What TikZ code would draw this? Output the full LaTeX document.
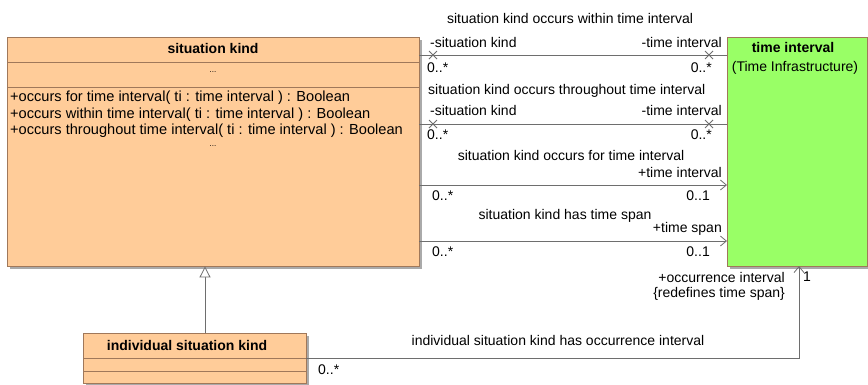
\documentclass[tikz,border=0pt]{standalone}
\usepackage{fontspec}
\setmainfont{Liberation Sans}
\usetikzlibrary{arrows.meta}
\definecolor{skfill}{RGB}{255,204,153}
\definecolor{tifill}{RGB}{153,255,102}
\definecolor{boxline}{RGB}{160,120,90}
\definecolor{shadowc}{RGB}{170,170,170}
\definecolor{linec}{RGB}{110,110,110}
\tikzset{
  lbl/.style={font=\fontsize{14}{16}\selectfont, inner sep=0pt, text=black},
  mth/.style={font=\fontsize{14.6}{16}\selectfont, inner sep=0pt, text=black},
  ttl/.style={font=\fontsize{14}{16}\selectfont\bfseries, inner sep=0pt},
  classbox/.style={draw=boxline, line width=0.8pt, inner sep=0pt, rectangle},
  assoc/.style={draw=linec, line width=0.8pt},
  openarr/.style={assoc, -{Straight Barb[length=6pt, width=10pt, line width=0.8pt]}},
  genarr/.style={assoc, -{Triangle[open, length=11pt, width=11pt, line width=0.8pt, fill=white]}},
  xmark/.style={draw=linec, line width=0.8pt}
}
\begin{document}
\begin{tikzpicture}[x=1pt, y=-1pt]
\useasboundingbox (0,0) rectangle (868,384);
% shadows
\fill[shadowc] (10,40) rectangle (422,269);
\fill[shadowc] (730,40) rectangle (869,269);
\fill[shadowc] (86,336) rectangle (309,386);
% situation kind
\node[classbox, fill=skfill, minimum width=412pt, minimum height=229pt] (sk) at (213,151.5) {};
\draw[boxline, line width=0.8pt] (7,62) -- (419,62);
\draw[boxline, line width=0.8pt] (7,87) -- (419,87);
\node[ttl] (sktitle) at (213,48) {situation kind};
\node[lbl, font=\fontsize{8}{9}\selectfont] (skdots1) at (213,72) {...};
\node[mth, anchor=west] (m1) at (10,98) {+occurs for time interval( ti : time interval ) : Boolean};
\node[mth, anchor=west] (m2) at (10,115) {+occurs within time interval( ti : time interval ) : Boolean};
\node[mth, anchor=west] (m3) at (10,131) {+occurs throughout time interval( ti : time interval ) : Boolean};
\node[lbl, font=\fontsize{8}{9}\selectfont] (skdots2) at (213,146) {...};
% time interval
\node[classbox, fill=tifill, minimum width=140pt, minimum height=229pt] (ti) at (797,151.5) {};
\node[ttl] (tititle) at (793,47) {time interval};
\node[lbl] (tisub) at (795,68) {(Time Infrastructure)};
% individual situation kind
\node[classbox, fill=skfill, minimum width=223pt, minimum height=50pt] (isk) at (194.5,358) {};
\draw[boxline, line width=0.8pt] (83,358) -- (306,358);
\draw[boxline, line width=0.8pt] (83,371) -- (306,371);
\node[ttl] (isktitle) at (187,345) {individual situation kind};
% coordinates for association ends
\coordinate (a1l) at (419,55); \coordinate (a1r) at (727,55);
\coordinate (a2l) at (419,124); \coordinate (a2r) at (727,124);
\coordinate (a3l) at (419,185); \coordinate (a3r) at (727,185);
\coordinate (a4l) at (419,241); \coordinate (a4r) at (727,241);
\coordinate (a5l) at (306,358); \coordinate (a5b) at (799,358); \coordinate (a5r) at (799,266);
% occurs within
\draw[assoc] (a1l) -- (a1r);
\draw[xmark] (429,51) -- (437,59) (429,59) -- (437,51);
\draw[xmark] (705,51) -- (713,59) (705,59) -- (713,51);
\node[lbl] (n1) at (570,18) {situation kind occurs within time interval};
\node[lbl, anchor=west] (r1l) at (430,42) {-situation kind};
\node[lbl, anchor=east] (r1r) at (722,42) {-time interval};
\node[lbl, anchor=west] (m1l) at (427,68) {0..*};
\node[lbl, anchor=east] (m1r) at (712,68) {0..*};
% occurs throughout
\draw[assoc] (a2l) -- (a2r);
\draw[xmark] (429,120) -- (437,128) (429,128) -- (437,120);
\draw[xmark] (705,120) -- (713,128) (705,128) -- (713,120);
\node[lbl, anchor=west] (n2) at (428,91) {situation kind occurs throughout time interval};
\node[lbl, anchor=west] (r2l) at (430,110) {-situation kind};
\node[lbl, anchor=east] (r2r) at (722,110) {-time interval};
\node[lbl, anchor=west] (m2l) at (427,135) {0..*};
\node[lbl, anchor=east] (m2r) at (712,135) {0..*};
% occurs for
\draw[openarr] (a3l) -- (a3r);
\node[lbl] (n3) at (571,155) {situation kind occurs for time interval};
\node[lbl, anchor=east] (r3r) at (722,172) {+time interval};
\node[lbl, anchor=west] (m3l) at (432,196) {0..*};
\node[lbl, anchor=east] (m3r) at (710,196) {0..1};
% has time span
\draw[openarr] (a4l) -- (a4r);
\node[lbl] (n4) at (565,216) {situation kind has time span};
\node[lbl, anchor=east] (r4r) at (722,229) {+time span};
\node[lbl, anchor=west] (m4l) at (432,252) {0..*};
\node[lbl, anchor=east] (m4r) at (710,252) {0..1};
% individual has occurrence interval
\draw[openarr] (a5l) -- (a5b) -- (a5r);
\node[lbl] (n5) at (558,340) {individual situation kind has occurrence interval};
\node[lbl, anchor=east] (r5a) at (785,277) {+occurrence interval};
\node[lbl, anchor=east] (r5b) at (785,294) {\{redefines time span\}};
\node[lbl, anchor=west] (m5r) at (803,277) {1};
\node[lbl, anchor=west] (m5l) at (318,370) {0..*};
% generalization
\draw[genarr] (isk.north -| 205,0) -- (sk.south -| 205,0);
\end{tikzpicture}
\end{document}
